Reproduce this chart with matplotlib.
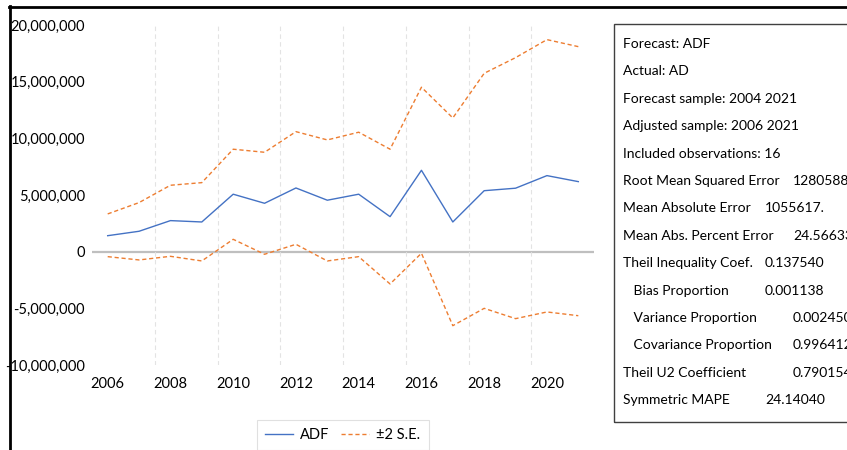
import numpy as np
import matplotlib
matplotlib.use('Agg')
from matplotlib import pyplot as plt
from matplotlib.lines import Line2D
from matplotlib.patches import Rectangle
from matplotlib.ticker import FuncFormatter

plt.rcParams['font.family'] = ['Lato', 'DejaVu Sans']

years = list(range(2006, 2022))
adf = [1.41, 1.80, 2.74, 2.62, 5.07, 4.27, 5.62, 4.54, 5.07, 3.09, 7.18, 2.62, 5.38, 5.60, 6.71, 6.18]
upper = [3.33, 4.33, 5.86, 6.09, 9.04, 8.77, 10.59, 9.86, 10.54, 9.04, 14.51, 11.80, 15.74, 17.12, 18.71, 18.09]
lower = [-0.44, -0.73, -0.41, -0.82, 1.09, -0.23, 0.65, -0.82, -0.44, -2.85, -0.14, -6.53, -5.00, -5.91, -5.32, -5.65]
year_labels = [2006, 2008, 2010, 2012, 2014, 2016, 2018, 2020]

stat_rows = [
    ("Forecast: ADF", "", 0),
    ("Actual: AD", "", 0),
    ("Forecast sample: 2004 2021", "", 0),
    ("Adjusted sample: 2006 2021", "", 0),
    ("Included observations: 16", "", 0),
    ("Root Mean Squared Error", "1280588.", 2),
    ("Mean Absolute Error", "1055617.", 1),
    ("Mean Abs. Percent Error", "24.56633", 2),
    ("Theil Inequality Coef.", "0.137540", 1),
    ("   Bias Proportion", "0.001138", 1),
    ("   Variance Proportion", "0.002450", 2),
    ("   Covariance Proportion", "0.996412", 2),
    ("Theil U2 Coefficient", "0.790154", 2),
    ("Symmetric MAPE", "24.14040", 1),
]

W, H = 847, 450
fig = plt.figure(figsize=(W / 100, H / 100), dpi=100)
ax = fig.add_axes([92 / W, 1 - 365 / H, (594 - 92) / W, (365 - 25) / H])

mil = 1e6
ax.plot(years, np.array(adf) * mil, color='#4472C4', lw=1.0, label='ADF')
ax.plot(years, np.array(upper) * mil, color='#ED7D31', lw=1.0, ls=(0, (3, 2)), label='\u00b12 S.E.')
ax.plot(years, np.array(lower) * mil, color='#ED7D31', lw=1.0, ls=(0, (3, 2)))
ax.axhline(0, color='#bfbfbf', lw=1.6, zorder=0)

for g in range(2007, 2020, 2):
    ax.axvline(g + 0.5, color='#e3e3e3', lw=0.8, ls=(0, (4, 3)), zorder=0)

ax.set_xlim(2005.5, 2021.5)
ax.set_ylim(-10 * mil, 20 * mil)
ax.set_yticks(np.arange(-10, 21, 5) * mil)
ax.yaxis.set_major_formatter(FuncFormatter(lambda v, p: f"{v:,.0f}"))
ax.set_xticks(year_labels)
ax.tick_params(axis='both', length=0, labelsize=10.5, colors='black')
ax.tick_params(axis='y', pad=5)
ax.tick_params(axis='x', pad=9)
for s in ax.spines.values():
    s.set_visible(False)

leg = ax.legend(loc='upper center', bbox_to_anchor=(0.5, -0.162), ncol=2, frameon=True,
                fontsize=10.5, handlelength=1.9, columnspacing=0.8, fancybox=False,
                borderpad=0.55, borderaxespad=0, handletextpad=0.5)
leg.get_frame().set_edgecolor('#d9d9d9')
leg.get_frame().set_linewidth(0.8)

# screenshot border
fig.add_artist(Line2D([9 / W, 1], [1 - 7 / H, 1 - 7 / H], color='black', lw=2, transform=fig.transFigure))
fig.add_artist(Line2D([10 / W, 10 / W], [0, 1 - 6 / H], color='black', lw=2, transform=fig.transFigure))

# statistics box
fig.add_artist(Rectangle((614 / W, 1 - 422 / H), (W + 10 - 614) / W, (422 - 24) / H,
                         fill=False, edgecolor='#404040', lw=1.0, transform=fig.transFigure))
val_x = {1: 765, 2: 793}
for i, (name, val, col) in enumerate(stat_rows):
    y = 1 - (44 + i * 27.4) / H
    fig.text(623 / W, y, name, fontsize=10, va='center', ha='left')
    if val:
        fig.text(val_x[col] / W, y, val, fontsize=10, va='center', ha='left')

fig.savefig('out.png', dpi=100)
